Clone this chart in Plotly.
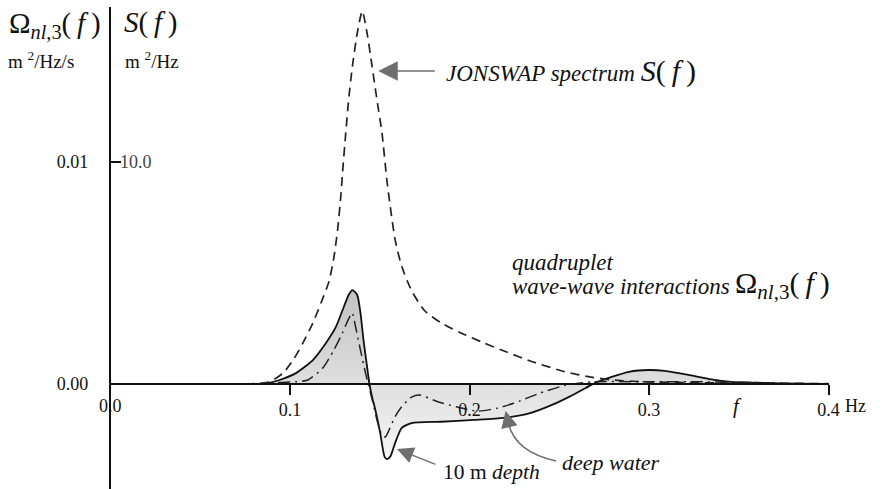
import plotly.graph_objects as go

W, H = 884, 489

# ---- data ----
# JONSWAP spectrum S(f)  [m^2/Hz]
f_jonswap = [0.075, 0.0815, 0.0886, 0.0962, 0.1017, 0.1071, 0.1127, 0.1172, 0.1216, 0.1244,
             0.1264, 0.1282, 0.1292, 0.1310, 0.1326, 0.1347, 0.1374, 0.1402, 0.1429, 0.1457,
             0.1484, 0.1512, 0.1539, 0.1558, 0.1585, 0.1622, 0.1677, 0.1750, 0.1842, 0.1952,
             0.2080, 0.2207, 0.2355, 0.2537, 0.2670, 0.2796, 0.3016, 0.3500, 0.4000]
S_jonswap = [0.0, 0.02, 0.09, 0.50, 1.08, 1.84, 2.75, 3.65, 4.6, 5.7,
             6.9, 8.4, 9.5, 11.3, 12.8, 14.3, 15.8, 16.8, 15.8, 14.3,
             12.8, 11.3, 9.2, 8.0, 6.5, 5.3, 4.2, 3.3, 2.75, 2.3,
             1.85, 1.44, 0.99, 0.54, 0.32, 0.18, 0.09, 0.04, 0.02]

# Quadruplet interactions, 10 m depth (solid)  [m^2/Hz/s]
f_10m = [0.080, 0.0870, 0.0941, 0.1035, 0.1127, 0.1200, 0.1255, 0.1299, 0.1326, 0.1347,
         0.1374, 0.1392, 0.1409, 0.1429, 0.1442, 0.1457, 0.1475, 0.1502, 0.1526, 0.1539,
         0.1558, 0.1585, 0.1622, 0.1677, 0.1842, 0.2025, 0.2190, 0.2337, 0.2482, 0.2557,
         0.2647, 0.2695, 0.2796, 0.2888, 0.2998, 0.3088, 0.3218, 0.3346, 0.3456, 0.3583,
         0.3786, 0.4000]
omega_10m = [0.0, 0.00003, 0.00018, 0.00050, 0.00108, 0.00185, 0.00257, 0.00347, 0.00401, 0.00423,
             0.00401, 0.00320, 0.00198, 0.00077, 0.0, -0.00059, -0.00117, -0.00221, -0.00327, -0.00338,
             -0.00327, -0.00266, -0.00198, -0.00176, -0.00170, -0.00162, -0.00153, -0.00131, -0.00086, -0.00057,
             -0.00018, 0.00003, 0.00033, 0.00055, 0.00063, 0.00059, 0.00041, 0.00021, 0.00010, 0.00006,
             0.00002, 0.0]

# Quadruplet interactions, deep water (dash-dot)  [m^2/Hz/s]
f_deep = [0.080, 0.0870, 0.1035, 0.1099, 0.1182, 0.1244, 0.1292, 0.1319, 0.1346, 0.1365,
          0.1392, 0.1420, 0.1435, 0.1458, 0.1484, 0.1512, 0.1530, 0.1547, 0.1585, 0.1622,
          0.1677, 0.1723, 0.1823, 0.1933, 0.2043, 0.2154, 0.2245, 0.2392, 0.2537, 0.2686,
          0.2961, 0.3236, 0.3583, 0.3786, 0.4000]
omega_deep = [0.0, 0.00005, 0.00010, 0.00018, 0.00072, 0.00153, 0.00230, 0.00281, 0.00320, 0.00257,
              0.00153, 0.00050, 0.0, -0.00072, -0.00162, -0.00230, -0.00239, -0.00215, -0.00147, -0.00102,
              -0.00059, -0.00050, -0.00080, -0.00104, -0.00122, -0.00109, -0.00087, -0.00041, -0.00005, 0.00010,
              0.00010, 0.00010, 0.00007, 0.00002, 0.0]

x_ticks = [0.1, 0.2, 0.3, 0.4]
x_ticktext = ["0.1", "0.2", "0.3", "0.4"]
omega_ticks = [0.0, 0.01]
omega_ticktext = ["0.00", "0.01"]
S_ticks = [10.0]
S_ticktext = ["10.0"]

# ---- layout geometry ----
FONT = "Liberation Serif"
y_lo, y_hi = -0.0047297, 0.016982      # Omega axis range
S_lo, S_hi = y_lo * 1000, y_hi * 1000  # S axis range (same pixel scale: 0.01 <-> 10.0)
dom_top = 482 / H
zero_pos = (0 - y_lo) / (y_hi - y_lo) * dom_top


def px(x):
    return x / W


def py(y):
    return 1 - y / H


fig = go.Figure()

fig.add_trace(go.Scatter(
    x=f_10m, y=omega_10m, mode="lines", fill="tozeroy",
    fillgradient=dict(type="vertical", colorscale=[[0, "#f6f6f6"], [1, "#c2c2c2"]]),
    line=dict(color="#111111", width=1.8, shape="spline", smoothing=0.6),
    yaxis="y", showlegend=False, hoverinfo="skip"))

fig.add_trace(go.Scatter(
    x=f_deep, y=omega_deep, mode="lines",
    line=dict(color="#222222", width=1.5, dash="12px,5px,2px,5px", shape="spline", smoothing=0.6),
    yaxis="y", showlegend=False, hoverinfo="skip"))

fig.add_trace(go.Scatter(
    x=f_jonswap, y=S_jonswap, mode="lines",
    line=dict(color="#222222", width=1.7, dash="9px,6px", shape="spline", smoothing=0.6),
    yaxis="y2", showlegend=False, hoverinfo="skip"))

annotations = []


def txt(text, x, y, size=15, xanchor="center", yanchor="middle"):
    annotations.append(dict(text=text, x=px(x), y=py(y), xref="paper", yref="paper",
                            showarrow=False, xanchor=xanchor, yanchor=yanchor,
                            font=dict(family=FONT, size=size, color="#111111")))


TS = "\u2009"  # thin space
OMEGA = f"Ω<sub><i>nl</i>,3</sub>({TS}<i>f</i>{TS})"
S_LBL = f"<i>S</i>({TS}<i>f</i>{TS})"

# axis headers
txt(OMEGA, 7, 25, size=29, xanchor="left")
txt("m <sup>2</sup>/Hz/s", 6, 60, size=19, xanchor="left")
txt(S_LBL, 124, 23, size=29, xanchor="left")
txt("m <sup>2</sup>/Hz", 125, 60, size=19, xanchor="left")

# x axis extras
txt("0.0", 112, 406, size=18)
txt("<i>f</i>", 747, 406, size=21)
txt("Hz", 854, 406, size=18, xanchor="left")

# curve labels
txt(f"<i>JONSWAP spectrum</i> <span style='font-size:30px'>{S_LBL}</span>", 450, 71,
    size=23, xanchor="left")
txt("<i>quadruplet</i>", 516, 262, size=23, xanchor="left")
txt("<i>wave-wave interactions</i>", 516, 286, size=23, xanchor="left")
txt(OMEGA, 742, 285, size=30, xanchor="left")
txt("10 m <i>depth</i>", 447, 472, size=21.5, xanchor="left")
txt("<i>deep water</i>", 567, 462, size=22, xanchor="left")

ARROW = "#6e6e6e"


def arrow(x_tip, y_tip, dx, dy, size=2.2):
    annotations.append(dict(text="", x=px(x_tip), y=py(y_tip), xref="paper", yref="paper",
                            ax=dx, ay=dy, showarrow=True, arrowhead=2, arrowsize=size,
                            arrowwidth=1.5, arrowcolor=ARROW))


arrow(383, 71, 58, 0, size=2.6)        # JONSWAP
arrow(402, 449, 40, 16)                # 10 m depth
arrow(512, 411, 3, 13)                 # deep water (head of curved arrow)

shapes = [dict(type="path", xref="paper", yref="paper",
               path=f"M {px(563)},{py(461)} Q {px(522)},{py(452)} {px(515)},{py(424)}",
               line=dict(color=ARROW, width=1.5))]

fig.update_layout(
    width=W, height=H, margin=dict(l=0, r=0, t=0, b=0),
    paper_bgcolor="white", plot_bgcolor="rgba(0,0,0,0)",
    font=dict(family=FONT, size=17, color="#111111"),
    xaxis=dict(domain=[112 / W, 839 / W], range=[0, 0.4], anchor="free", position=zero_pos,
               showline=True, linecolor="#111111", linewidth=1.5,
               ticks="outside", ticklen=10, tickwidth=1.5, tickcolor="#111111",
               tickvals=x_ticks, ticktext=x_ticktext, tickfont=dict(family=FONT, size=18),
               showgrid=False, zeroline=False),
    yaxis=dict(domain=[0, dom_top], range=[y_lo, y_hi], anchor="x", side="left",
               showline=True, linecolor="#111111", linewidth=1.5,
               ticks="", tickvals=omega_ticks, ticktext=omega_ticktext,
               tickfont=dict(family=FONT, size=18), ticklabelstandoff=17,
               showgrid=False, zeroline=False),
    yaxis2=dict(domain=[0, dom_top], range=[S_lo, S_hi], overlaying="y", anchor="x", side="left",
                showline=False, ticks="inside", ticklen=10, tickwidth=1.5, tickcolor="#111111",
                ticklabelposition="inside", tickvals=S_ticks, ticktext=S_ticktext,
                tickfont=dict(family=FONT, size=18),
                showgrid=False, zeroline=False),
    annotations=annotations, shapes=shapes,
)

fig.write_html("out.html")
